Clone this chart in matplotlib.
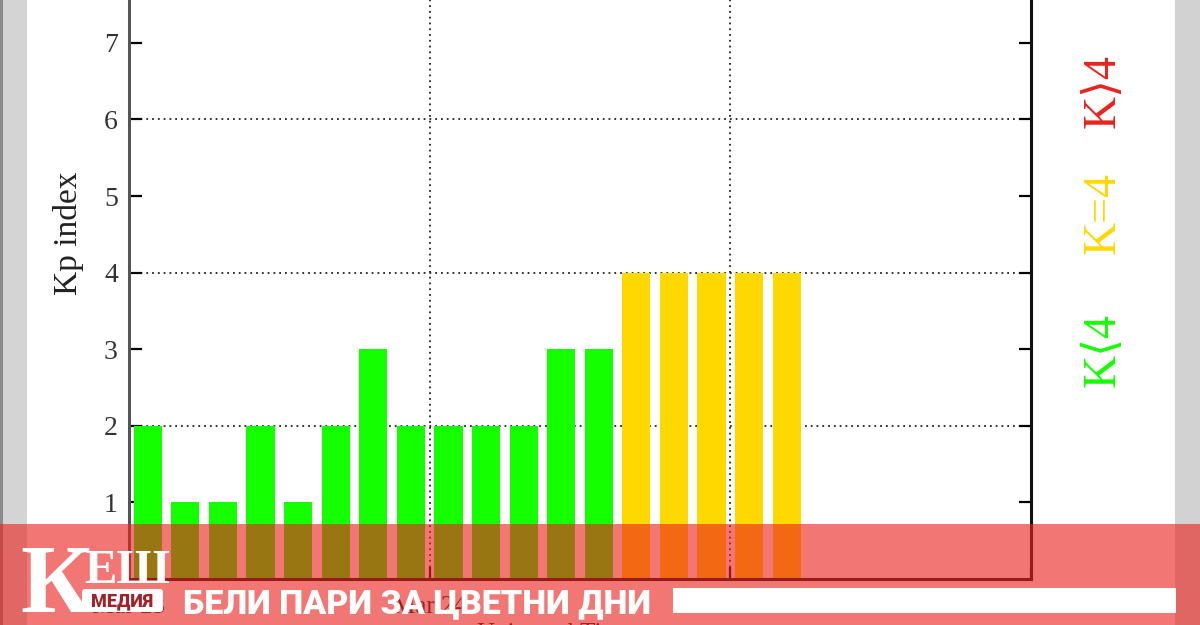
import matplotlib
matplotlib.use("Agg")
import matplotlib.pyplot as plt
from matplotlib.patches import Rectangle, FancyBboxPatch

# ---- data ----
kp_values = [2, 1, 1, 2, 1, 2, 3, 2, 2, 2, 2, 3, 3, 4, 4, 4, 4, 4]
interval_hours = 3
day_ticks = [0, 24, 48, 72]
day_labels = ["Mar 23", "Mar 24", "Mar 25", ""]
y_ticks = [1, 2, 3, 4, 5, 6, 7]
legend_labels = ["K⟨4", "K=4", "K⟩4"]

GREEN = "#14ff00"
YELLOW = "#ffd800"
RED = "#e8231e"

W, H = 1200, 625
fig = plt.figure(figsize=(W / 100, H / 100), dpi=100)
fig.patch.set_facecolor("white")

serif = ["Liberation Serif", "DejaVu Serif", "DejaVu Sans"]

# ---- main axes (y=0 at pixel 579 from top, 76.6 px per unit, 0..9) ----
x_left, x_right = 129, 1031
y0_px = 579
unit = 76.6
ax = fig.add_axes([x_left / W, (H - y0_px) / H, (x_right - x_left) / W, 9 * unit / H])
ax.set_xlim(0, 72)
ax.set_ylim(0, 9)

xs = [interval_hours * i + interval_hours / 2 for i in range(len(kp_values))]
colors = [GREEN if v < 4 else (YELLOW if v == 4 else RED) for v in kp_values]
ax.bar(xs, kp_values, width=interval_hours * 0.75, color=colors, zorder=2)

for yv in (2, 4, 6):
    ax.axhline(yv, color="#222222", lw=1.3, ls=(0, (1, 2.2)), zorder=1)
for xv in (24, 48):
    ax.axvline(xv, color="#222222", lw=1.3, ls=(0, (1, 2.2)), zorder=3)

ax.set_yticks(y_ticks)
ax.set_yticklabels([str(t) for t in y_ticks], family=serif, fontsize=20, color="#333333")
ax.set_xticks(day_ticks)
ax.set_xticklabels(day_labels, family=serif, fontsize=18, color="#222222")
ax.tick_params(axis="y", direction="in", length=9, width=1.6, right=True, pad=8)
ax.tick_params(axis="x", direction="in", length=9, width=1.6, pad=12)
for side in ("left", "right", "bottom", "top"):
    ax.spines[side].set_linewidth(2.2)
ax.spines["left"].set_color("#555555")
ax.spines["right"].set_color("#111111")
ax.spines["bottom"].set_color("#111111")

fig.text(68 / W, 1 - 233 / H, "Kp index", rotation=90, ha="center", va="center",
         family=serif, fontsize=24, color="#222222")
fig.text(555 / W, 1 - 634 / H, "Universal Time", ha="center", va="center",
         family=serif, fontsize=18, color="#222222")

# legend-like labels on the right
for lbl, col, yc in zip(legend_labels, [GREEN, YELLOW, RED], [350, 213, 91]):
    fig.text(1103 / W, 1 - yc / H, lbl, rotation=90, ha="center", va="center",
             family=serif, fontsize=33, color=col)

# ---- overlay axes in pixel coordinates ----
ov = fig.add_axes([0, 0, 1, 1], zorder=10)
ov.set_xlim(0, W)
ov.set_ylim(H, 0)
ov.axis("off")
ov.patch.set_alpha(0)

# side strips
ov.add_patch(Rectangle((0, 0), 27, H, color="#d4d4d4", lw=0, zorder=1))
ov.add_patch(Rectangle((0, 0), 3, H, color="#8a8a8a", lw=0, zorder=1))
ov.add_patch(Rectangle((1175, 0), 25, H, color="#d2d2d2", lw=0, zorder=1))

# translucent banner
ov.add_patch(Rectangle((0, 524), W, H - 524, facecolor=(234 / 255, 36 / 255, 31 / 255),
                       alpha=0.62, lw=0, zorder=2))
# white bar
ov.add_patch(Rectangle((673, 588), 503, 25, facecolor="white", lw=0, zorder=3))

# logo
ov.text(20, 612, "К", family=serif, fontweight="bold", fontsize=70, color="white",
        ha="left", va="baseline", zorder=4)
ov.text(84, 583, "ЕШ", family=serif, fontweight="bold", fontsize=35, color="white",
        ha="left", va="baseline", zorder=4)
ov.add_patch(FancyBboxPatch((82, 589), 81, 23, boxstyle="round,pad=0,rounding_size=3",
                            facecolor="white", lw=0, zorder=4))
ov.text(122, 601, "МЕДИЯ", family=["Roboto", "DejaVu Sans"], fontweight="black",
        fontsize=13, color="#a3222a", ha="center", va="center", zorder=5)

# slogan
ov.text(183, 613, "БЕЛИ ПАРИ ЗА ЦВЕТНИ ДНИ", family=["Roboto", "DejaVu Sans"],
        fontweight="black", fontsize=24.5, color="white", ha="left", va="baseline", zorder=4)

fig.savefig("out.png", dpi=100)
